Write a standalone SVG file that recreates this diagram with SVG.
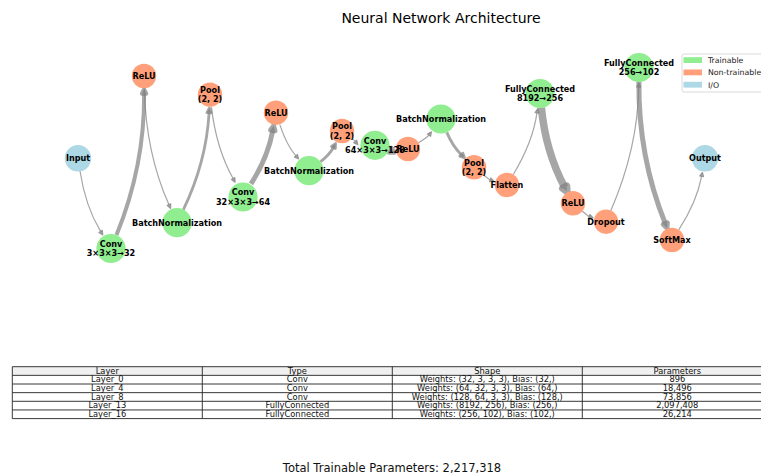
<svg xmlns="http://www.w3.org/2000/svg" width="761" height="474" viewBox="0 0 761 474">
<style>
text{font-family:"DejaVu Sans","Liberation Sans",sans-serif}
.e{fill:none;stroke:#808080;stroke-opacity:0.7}
.t{fill:#90EE90}.n{fill:#FFA07A}.io{fill:#ADD8E6}
.lb{font-size:8.1px;font-weight:bold;fill:#000;text-anchor:middle}
.tb{font-size:8.3px;fill:#111;text-anchor:middle}
.lg{font-size:7.8px;fill:#222}
.gl{stroke:#222;stroke-width:0.9;fill:none}
</style>
<defs>
<marker id="a1" markerUnits="userSpaceOnUse" orient="auto" overflow="visible" refX="0" refY="0" markerWidth="10" markerHeight="10"><path d="M0,-2 L4.2,0 L0,2 Z" fill="#808080" fill-opacity="0.7" stroke="#808080" stroke-opacity="0.7" stroke-width="1.2" stroke-linejoin="round"/></marker>
<marker id="a3" markerUnits="userSpaceOnUse" orient="auto" overflow="visible" refX="0" refY="0" markerWidth="10" markerHeight="10"><path d="M0,-2.2 L4.5,0 L0,2.2 Z" fill="#808080" fill-opacity="0.7" stroke="#808080" stroke-opacity="0.7" stroke-width="2.8" stroke-linejoin="round"/></marker>
<marker id="a4" markerUnits="userSpaceOnUse" orient="auto" overflow="visible" refX="0" refY="0" markerWidth="10" markerHeight="10"><path d="M0,-2.2 L4.5,0 L0,2.2 Z" fill="#808080" fill-opacity="0.7" stroke="#808080" stroke-opacity="0.7" stroke-width="4" stroke-linejoin="round"/></marker>
<marker id="a5" markerUnits="userSpaceOnUse" orient="auto" overflow="visible" refX="0" refY="0" markerWidth="10" markerHeight="10"><path d="M0,-2.2 L4.5,0 L0,2.2 Z" fill="#808080" fill-opacity="0.7" stroke="#808080" stroke-opacity="0.7" stroke-width="5" stroke-linejoin="round"/></marker>
<marker id="a7" markerUnits="userSpaceOnUse" orient="auto" overflow="visible" refX="0" refY="0" markerWidth="10" markerHeight="10"><path d="M0,-2.2 L4.5,0 L0,2.2 Z" fill="#808080" fill-opacity="0.7" stroke="#808080" stroke-opacity="0.7" stroke-width="7.5" stroke-linejoin="round"/></marker>
</defs>
<rect width="761" height="474" fill="#fff"/>
<text x="441" y="23" font-size="14" text-anchor="middle" fill="#000">Neural Network Architecture</text>

<g id="edges">
<path class="e" stroke-width="1.2" marker-end="url(#a1)" d="M80,171 Q85.45,206.55 100.6,231.4"/>
<path class="e" stroke-width="4" marker-end="url(#a4)" d="M116.5,235 Q144.75,165.55 144.1,93.7"/>
<path class="e" stroke-width="1.2" marker-end="url(#a1)" d="M144.3,88.2 Q145.8,152.8 168.9,204.6"/>
<path class="e" stroke-width="2.8" marker-end="url(#a3)" d="M183.3,209.9 Q206.3,162.3 209.1,112.7"/>
<path class="e" stroke-width="1.2" marker-end="url(#a1)" d="M211.4,107.1 Q216.4,148.8 233.1,178.5"/>
<path class="e" stroke-width="5" marker-end="url(#a5)" d="M251,183.8 Q267.8,157.8 272.8,130.4"/>
<path class="e" stroke-width="1.2" marker-end="url(#a1)" d="M279.8,124.6 Q286.7,145.3 295.9,155.8"/>
<path class="e" stroke-width="2.8" marker-end="url(#a3)" d="M320.4,161.9 Q329.4,154.8 333.4,147.5"/>
<path class="e" stroke-width="1.2" marker-end="url(#a1)" d="M352.2,138.6 Q354.5,140.5 355.2,141.4"/>
<path class="e" stroke-width="5" marker-end="url(#a5)" d="M388.9,149.6 L390.3,150.3"/>
<path class="e" stroke-width="1.2" marker-end="url(#a1)" d="M418.5,142.7 Q427.5,137.3 429,135.2"/>
<path class="e" stroke-width="2.8" marker-end="url(#a3)" d="M446.8,132.4 Q452.7,146.3 461.3,154.7"/>
<path class="e" stroke-width="1.2" marker-end="url(#a1)" d="M483.4,174.8 Q488.7,179.3 490.1,179.8"/>
<path class="e" stroke-width="1.2" marker-end="url(#a1)" d="M513.3,174.5 Q532.7,142.3 537,112.9"/>
<path class="e" stroke-width="7.5" marker-end="url(#a7)" d="M541.4,107.5 Q545.5,151.3 564.7,187.3"/>
<path class="e" stroke-width="1.2" marker-end="url(#a1)" d="M582.2,211 Q587.6,215.8 589.2,216.4"/>
<path class="e" stroke-width="1.2" marker-end="url(#a1)" d="M610.8,210.8 Q638,147.8 638.7,87.1"/>
<path class="e" stroke-width="5" marker-end="url(#a5)" d="M638.9,81.6 Q638.2,156.8 665.3,223.6"/>
<path class="e" stroke-width="1.2" marker-end="url(#a1)" d="M678.7,229.8 Q696.7,202.3 701.6,176.4"/>
</g>

<g id="n0"><circle class="io" cx="78" cy="158.3" r="13.2"/><text class="lb" x="78" y="161.2">Input</text></g>
<g id="n1"><circle class="t" cx="111" cy="248.5" r="14.6"/><text class="lb" x="111" y="246.7">Conv</text><text class="lb" x="111" y="256.2">3×3×3→32</text></g>
<g id="n2"><circle class="n" cx="144" cy="76" r="12.2"/><text class="lb" x="144" y="78.9">ReLU</text></g>
<g id="n3"><circle class="t" cx="177" cy="222.7" r="14.6"/><text class="lb" x="177" y="225.6">BatchNormalization</text></g>
<g id="n4"><circle class="n" cx="210" cy="94.7" r="12.2"/><text class="lb" x="210" y="92.9">Pool</text><text class="lb" x="210" y="102.4">(2, 2)</text></g>
<g id="n5"><circle class="t" cx="243" cy="197" r="14.6"/><text class="lb" x="243" y="195.2">Conv</text><text class="lb" x="243" y="204.7">32×3×3→64</text></g>
<g id="n6"><circle class="n" cx="276" cy="112.7" r="12.2"/><text class="lb" x="276" y="115.6">ReLU</text></g>
<g id="n7"><circle class="t" cx="309" cy="170.7" r="14.6"/><text class="lb" x="309" y="173.6">BatchNormalization</text></g>
<g id="n8"><circle class="n" cx="342" cy="131" r="12.2"/><text class="lb" x="342" y="129.2">Pool</text><text class="lb" x="342" y="138.7">(2, 2)</text></g>
<g id="n10"><circle class="n" cx="408" cy="149" r="12.2"/><text class="lb" x="408" y="151.9">ReLU</text></g>
<g id="n9"><circle class="t" cx="375" cy="145.3" r="14.6"/><text class="lb" x="375" y="143.5">Conv</text><text class="lb" x="375" y="153">64×3×3→128</text></g>
<g id="n11"><circle class="t" cx="441" cy="119" r="14.6"/><text class="lb" x="441" y="121.9">BatchNormalization</text></g>
<g id="n12"><circle class="n" cx="474" cy="167.3" r="12.2"/><text class="lb" x="474" y="165.5">Pool</text><text class="lb" x="474" y="175">(2, 2)</text></g>
<g id="n13"><circle class="n" cx="507" cy="185" r="12.2"/><text class="lb" x="507" y="187.9">Flatten</text></g>
<g id="n14"><circle class="t" cx="540" cy="93.5" r="14.6"/><text class="lb" x="540" y="91.7">FullyConnected</text><text class="lb" x="540" y="101.2">8192→256</text></g>
<g id="n15"><circle class="n" cx="573" cy="203.3" r="12.2"/><text class="lb" x="573" y="206.2">ReLU</text></g>
<g id="n16"><circle class="n" cx="606" cy="221.7" r="12.2"/><text class="lb" x="606" y="224.6">Dropout</text></g>
<g id="n17"><circle class="t" cx="639" cy="67.5" r="14.6"/><text class="lb" x="639" y="65.7">FullyConnected</text><text class="lb" x="639" y="75.2">256→102</text></g>
<g id="n18"><circle class="n" cx="672" cy="240" r="12.2"/><text class="lb" x="672" y="242.9">SoftMax</text></g>
<g id="n19"><circle class="io" cx="705" cy="158.3" r="13.2"/><text class="lb" x="705" y="161.2">Output</text></g>

<g id="legend">
<rect x="682" y="54" width="95" height="38" rx="2" fill="#fff" fill-opacity="0.8" stroke="#d0d0d0" stroke-width="0.8"/>
<rect x="683.5" y="57.2" width="18.5" height="5.8" class="t"/>
<rect x="683.5" y="69.5" width="18.5" height="5.8" class="n"/>
<rect x="683.5" y="81.8" width="18.5" height="5.8" class="io"/>
<text class="lg" x="708" y="62.9">Trainable</text>
<text class="lg" x="708" y="75.2">Non-trainable</text>
<text class="lg" x="708" y="87.5">I/O</text>
</g>

<g id="table">
<rect x="12.3" y="366.7" width="760" height="8.65" fill="#f0f0f0"/>
<path class="gl" d="M12.3,366.7 H772 M12.3,375.35 H772 M12.3,384 H772 M12.3,392.65 H772 M12.3,401.3 H772 M12.3,409.95 H772 M12.3,418.6 H772 M12.3,366.7 V418.6 M202.3,366.7 V418.6 M392.3,366.7 V418.6 M582.3,366.7 V418.6"/>
<text class="tb" x="107.3" y="373.6">Layer</text>
<text class="tb" x="297.3" y="373.6">Type</text>
<text class="tb" x="487.3" y="373.6">Shape</text>
<text class="tb" x="677.3" y="373.6">Parameters</text>
<text class="tb" x="107.3" y="382.2">Layer_0</text>
<text class="tb" x="297.3" y="382.2">Conv</text>
<text class="tb" x="487.3" y="382.2">Weights: (32, 3, 3, 3), Bias: (32,)</text>
<text class="tb" x="677.3" y="382.2">896</text>
<text class="tb" x="107.3" y="390.9">Layer_4</text>
<text class="tb" x="297.3" y="390.9">Conv</text>
<text class="tb" x="487.3" y="390.9">Weights: (64, 32, 3, 3), Bias: (64,)</text>
<text class="tb" x="677.3" y="390.9">18,496</text>
<text class="tb" x="107.3" y="399.5">Layer_8</text>
<text class="tb" x="297.3" y="399.5">Conv</text>
<text class="tb" x="487.3" y="399.5">Weights: (128, 64, 3, 3), Bias: (128,)</text>
<text class="tb" x="677.3" y="399.5">73,856</text>
<text class="tb" x="107.3" y="408.2">Layer_13</text>
<text class="tb" x="297.3" y="408.2">FullyConnected</text>
<text class="tb" x="487.3" y="408.2">Weights: (8192, 256), Bias: (256,)</text>
<text class="tb" x="677.3" y="408.2">2,097,408</text>
<text class="tb" x="107.3" y="416.8">Layer_16</text>
<text class="tb" x="297.3" y="416.8">FullyConnected</text>
<text class="tb" x="487.3" y="416.8">Weights: (256, 102), Bias: (102,)</text>
<text class="tb" x="677.3" y="416.8">26,214</text>
</g>

<text x="392" y="471.5" font-size="11.5" text-anchor="middle" fill="#111">Total Trainable Parameters: 2,217,318</text>
</svg>
